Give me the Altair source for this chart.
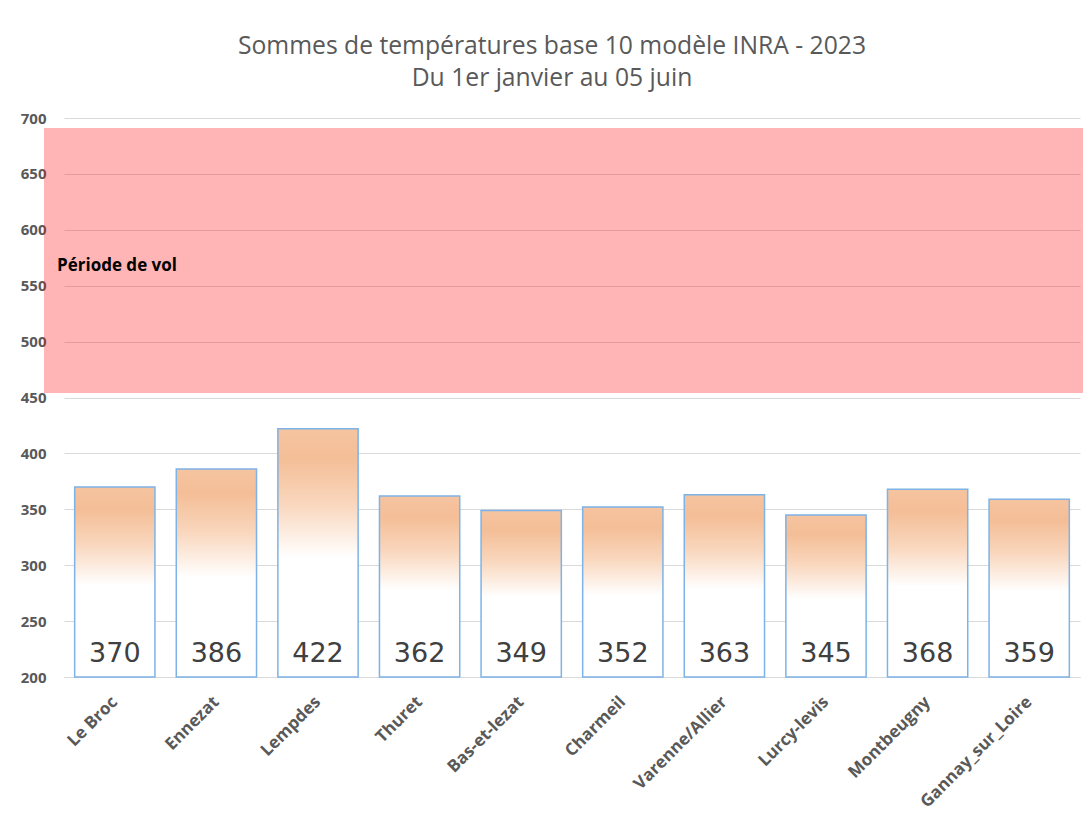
import altair as alt
import pandas as pd

sites = ["Le Broc", "Ennezat", "Lempdes", "Thuret", "Bas-et-lezat", "Charmeil",
         "Varenne/Allier", "Lurcy-levis", "Montbeugny", "Gannay_sur_Loire"]
sums = [370, 386, 422, 362, 349, 352, 363, 345, 368, 359]
band_low = [454]
band_high = [691]
band_label = ["Période de vol"]
band_label_y = [568]
y_ticks = [200, 250, 300, 350, 400, 450, 500, 550, 600, 650, 700]

W, H = 1016, 559

df = pd.DataFrame({"site": sites, "sum": sums})
band = pd.DataFrame({"low": band_low, "high": band_high,
                     "label": band_label, "ly": band_label_y})

x = alt.X("site:N", sort=sites, title=None,
          scale=alt.Scale(paddingInner=0.21, paddingOuter=0.105),
          axis=alt.Axis(labelAngle=-45, labelAlign="right", labelBaseline="middle"))
yscale = alt.Scale(domain=[200, 700], nice=False, zero=False)
yaxis = alt.Axis(values=y_ticks, labelFontSize=15, labelFontWeight="bold",
                 labelFont="Open Sans", labelColor="#595959")

grad = alt.Gradient(
    gradient="linear",
    stops=[alt.GradientStop(offset=0, color="#F5C4A0"),
           alt.GradientStop(offset=0.12, color="#F4BE97"),
           alt.GradientStop(offset=0.3, color="#F9D6BC"),
           alt.GradientStop(offset=0.52, color="#FFFFFF"),
           alt.GradientStop(offset=1, color="#FFFFFF")],
    x1=0, x2=0, y1=0, y2=1)

band_layer = alt.Chart(band).mark_rect(fill="#FF0000", opacity=0.29).encode(
    x=alt.value(-20), x2=alt.value(W + 3),
    y=alt.Y("low:Q", scale=yscale, title=None, axis=yaxis), y2="high:Q")

bars = alt.Chart(df).mark_bar(fill=grad, stroke="#7DB3E6", strokeWidth=1.5).encode(
    x=x, y=alt.Y("sum:Q", title=None, scale=yscale, axis=yaxis), y2=alt.datum(200))

values = alt.Chart(df).mark_text(baseline="bottom", dy=-9, fontSize=27,
                                 font="DejaVu Sans", color="#404040").encode(
    x=x, y=alt.Y(datum=200, scale=yscale, axis=yaxis), text="sum:Q")

band_text = alt.Chart(band).mark_text(align="left", baseline="middle", fontWeight="bold",
                                      fontSize=17, font="Open Sans", color="black").encode(
    x=alt.value(-7), y=alt.Y("ly:Q", scale=yscale, title=None, axis=yaxis), text="label:N")

chart = alt.layer(band_layer, bars, values, band_text).properties(
    width=W, height=H,
    padding={"left": 56, "top": 110, "right": 4, "bottom": 149},
    autosize=alt.AutoSizeParams(type="none"),
    title=alt.Title(["Sommes de températures base 10 modèle INRA - 2023",
                     "Du 1er janvier au 05 juin"],
                    fontSize=24.7, font="Open Sans", fontWeight="normal",
                    color="#595959", offset=20, anchor="middle", lineHeight=32, dx=-20),
).configure_view(stroke=None).configure_axisX(
    labelFontSize=17, labelFontWeight="bold", labelFont="Open Sans",
    labelColor="#595959", ticks=False, domain=True, domainColor="#D9D9D9",
    labelPadding=22, title=None, grid=False
).configure_axisY(
    labelFontSize=15, labelFontWeight="bold", labelFont="Open Sans",
    labelColor="#595959", ticks=False, domain=False, grid=True,
    gridColor="#D9D9D9", gridWidth=1.2, labelPadding=18, title=None
)

chart.save("out.html", embed_options={"renderer": "svg", "actions": False})
